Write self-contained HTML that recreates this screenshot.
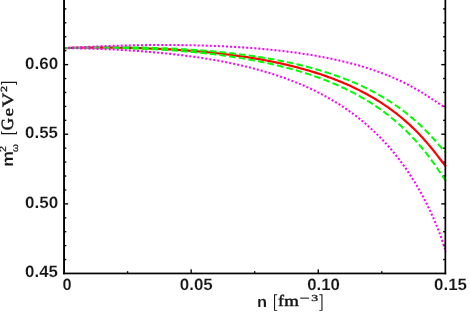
<!DOCTYPE html>
<html><head><meta charset="utf-8"><title>plot</title>
<style>
html,body{margin:0;padding:0;background:#fff;width:470px;height:327px;overflow:hidden}
svg{display:block;will-change:transform}
text{fill:#161616}
</style></head><body>
<svg width="470" height="327" viewBox="0 0 470 327">
<rect width="470" height="327" fill="#fff"/>
<g fill="#000">
<rect x="64.05" y="258.90" width="2.25" height="1.35"/>
<rect x="443.10" y="258.90" width="2.25" height="1.35"/>
<rect x="64.05" y="244.97" width="2.25" height="1.35"/>
<rect x="443.10" y="244.97" width="2.25" height="1.35"/>
<rect x="64.05" y="231.05" width="2.25" height="1.35"/>
<rect x="443.10" y="231.05" width="2.25" height="1.35"/>
<rect x="64.05" y="217.12" width="2.25" height="1.35"/>
<rect x="443.10" y="217.12" width="2.25" height="1.35"/>
<rect x="64.05" y="203.19" width="4.1" height="1.35"/>
<rect x="441.25" y="203.19" width="4.1" height="1.35"/>
<rect x="64.05" y="189.27" width="2.25" height="1.35"/>
<rect x="443.10" y="189.27" width="2.25" height="1.35"/>
<rect x="64.05" y="175.34" width="2.25" height="1.35"/>
<rect x="443.10" y="175.34" width="2.25" height="1.35"/>
<rect x="64.05" y="161.42" width="2.25" height="1.35"/>
<rect x="443.10" y="161.42" width="2.25" height="1.35"/>
<rect x="64.05" y="147.49" width="2.25" height="1.35"/>
<rect x="443.10" y="147.49" width="2.25" height="1.35"/>
<rect x="64.05" y="133.56" width="4.1" height="1.35"/>
<rect x="441.25" y="133.56" width="4.1" height="1.35"/>
<rect x="64.05" y="119.64" width="2.25" height="1.35"/>
<rect x="443.10" y="119.64" width="2.25" height="1.35"/>
<rect x="64.05" y="105.71" width="2.25" height="1.35"/>
<rect x="443.10" y="105.71" width="2.25" height="1.35"/>
<rect x="64.05" y="91.79" width="2.25" height="1.35"/>
<rect x="443.10" y="91.79" width="2.25" height="1.35"/>
<rect x="64.05" y="77.86" width="2.25" height="1.35"/>
<rect x="443.10" y="77.86" width="2.25" height="1.35"/>
<rect x="64.05" y="63.94" width="4.1" height="1.35"/>
<rect x="441.25" y="63.94" width="4.1" height="1.35"/>
<rect x="64.05" y="50.01" width="2.25" height="1.35"/>
<rect x="443.10" y="50.01" width="2.25" height="1.35"/>
<rect x="64.05" y="36.08" width="2.25" height="1.35"/>
<rect x="443.10" y="36.08" width="2.25" height="1.35"/>
<rect x="64.05" y="22.16" width="2.25" height="1.35"/>
<rect x="443.10" y="22.16" width="2.25" height="1.35"/>
<rect x="64.05" y="8.23" width="2.25" height="1.35"/>
<rect x="443.10" y="8.23" width="2.25" height="1.35"/>
<rect x="126.92" y="271.20" width="1.35" height="2.25"/>
<rect x="190.47" y="269.35" width="1.35" height="4.1"/>
<rect x="254.02" y="271.20" width="1.35" height="2.25"/>
<rect x="317.57" y="269.35" width="1.35" height="4.1"/>
<rect x="381.12" y="271.20" width="1.35" height="2.25"/>
</g>
<g fill="none" stroke-width="2.2">
<path d="M64.10,48.10 L65.60,48.06 L67.10,48.03 L68.60,48.00 L70.10,47.97 L71.60,47.94 L73.10,47.91 L74.60,47.88 L76.10,47.86 L77.60,47.83 L79.10,47.81 L80.60,47.79 L82.10,47.77 L83.60,47.75 L85.10,47.73 L86.60,47.72 L88.10,47.70 L89.60,47.69 L91.10,47.68 L92.60,47.67 L94.10,47.66 L95.60,47.65 L97.10,47.65 L98.60,47.65 L100.10,47.64 L101.60,47.64 L103.10,47.64 L104.60,47.64 L106.10,47.65 L107.60,47.65 L109.10,47.66 L110.60,47.67 L112.10,47.68 L113.60,47.69 L115.10,47.70 L116.60,47.72 L118.10,47.74 L119.60,47.75 L121.10,47.77 L122.60,47.80 L124.10,47.82 L125.60,47.84 L127.10,47.87 L128.60,47.90 L130.10,47.93 L131.60,47.96 L133.10,47.99 L134.60,48.03 L136.10,48.07 L137.60,48.11 L139.10,48.15 L140.60,48.19 L142.10,48.24 L143.60,48.28 L145.10,48.33 L146.60,48.38 L148.10,48.43 L149.60,48.49 L151.10,48.54 L152.60,48.60 L154.10,48.66 L155.60,48.72 L157.10,48.79 L158.60,48.85 L160.10,48.92 L161.60,48.99 L163.10,49.06 L164.60,49.14 L166.10,49.22 L167.60,49.29 L169.10,49.38 L170.60,49.46 L172.10,49.54 L173.60,49.63 L175.10,49.72 L176.60,49.81 L178.10,49.91 L179.60,50.00 L181.10,50.10 L182.60,50.21 L184.10,50.31 L185.60,50.42 L187.10,50.52 L188.60,50.64 L190.10,50.75 L191.60,50.86 L193.10,50.98 L194.60,51.10 L196.10,51.23 L197.60,51.35 L199.10,51.48 L200.60,51.61 L202.10,51.75 L203.60,51.89 L205.10,52.03 L206.60,52.17 L208.10,52.31 L209.60,52.46 L211.10,52.61 L212.60,52.77 L214.10,52.92 L215.60,53.08 L217.10,53.25 L218.60,53.41 L220.10,53.58 L221.60,53.75 L223.10,53.93 L224.60,54.10 L226.10,54.29 L227.60,54.47 L229.10,54.66 L230.60,54.85 L232.10,55.04 L233.60,55.24 L235.10,55.44 L236.60,55.65 L238.10,55.86 L239.60,56.07 L241.10,56.28 L242.60,56.50 L244.10,56.72 L245.60,56.95 L247.10,57.18 L248.60,57.41 L250.10,57.65 L251.60,57.89 L253.10,58.14 L254.60,58.39 L256.10,58.64 L257.60,58.90 L259.10,59.16 L260.60,59.43 L262.10,59.70 L263.60,59.97 L265.10,60.25 L266.60,60.53 L268.10,60.82 L269.60,61.11 L271.10,61.41 L272.60,61.71 L274.10,62.02 L275.60,62.33 L277.10,62.65 L278.60,62.97 L280.10,63.30 L281.60,63.63 L283.10,63.96 L284.60,64.31 L286.10,64.65 L287.60,65.00 L289.10,65.36 L290.60,65.73 L292.10,66.10 L293.60,66.47 L295.10,66.85 L296.60,67.24 L298.10,67.63 L299.60,68.03 L301.10,68.44 L302.60,68.85 L304.10,69.26 L305.60,69.69 L307.10,70.12 L308.60,70.56 L310.10,71.00 L311.60,71.45 L313.10,71.91 L314.60,72.38 L316.10,72.85 L317.60,73.33 L319.10,73.82 L320.60,74.31 L322.10,74.82 L323.60,75.33 L325.10,75.85 L326.60,76.37 L328.10,76.91 L329.60,77.45 L331.10,78.00 L332.60,78.57 L334.10,79.14 L335.60,79.72 L337.10,80.31 L338.60,80.90 L340.10,81.51 L341.60,82.13 L343.10,82.76 L344.60,83.40 L346.10,84.04 L347.60,84.70 L349.10,85.37 L350.60,86.05 L352.10,86.74 L353.60,87.45 L355.10,88.16 L356.60,88.89 L358.10,89.63 L359.60,90.38 L361.10,91.15 L362.60,91.92 L364.10,92.71 L365.60,93.52 L367.10,94.34 L368.60,95.17 L370.10,96.01 L371.60,96.87 L373.10,97.75 L374.60,98.64 L376.10,99.55 L377.60,100.47 L379.10,101.41 L380.60,102.37 L382.10,103.34 L383.60,104.33 L385.10,105.34 L386.60,106.37 L388.10,107.41 L389.60,108.48 L391.10,109.56 L392.60,110.67 L394.10,111.79 L395.60,112.94 L397.10,114.11 L398.60,115.30 L400.10,116.51 L401.60,117.75 L403.10,119.01 L404.60,120.29 L406.10,121.60 L407.60,122.93 L409.10,124.30 L410.60,125.68 L412.10,127.10 L413.60,128.54 L415.10,130.01 L416.60,131.52 L418.10,133.05 L419.60,134.61 L421.10,136.20 L422.60,137.83 L424.10,139.48 L425.60,141.17 L427.10,142.90 L428.60,144.65 L430.10,146.44 L431.60,148.26 L433.10,150.11 L434.60,152.00 L436.10,153.91 L437.60,155.84 L439.10,157.79 L440.60,159.76 L442.10,161.72 L443.60,163.65 L445.10,165.53 L445.90,166.49" stroke="#ff0000"/>
<path d="M64.10,48.10 L65.60,48.05 L67.10,48.00 L68.60,47.96 L70.10,47.92 L71.60,47.88 L73.10,47.84 L74.60,47.80 L76.10,47.76 L77.60,47.72 L79.10,47.69 L80.60,47.66 L82.10,47.62 L83.60,47.59 L85.10,47.57 L86.60,47.54 L88.10,47.51 L89.60,47.49 L91.10,47.46 L92.60,47.44 L94.10,47.42 L95.60,47.40 L97.10,47.38 L98.60,47.37 L100.10,47.35 L101.60,47.34 L103.10,47.33 L104.60,47.32 L106.10,47.31 L107.60,47.30 L109.10,47.30 L110.60,47.29 L112.10,47.29 L113.60,47.29 L115.10,47.29 L116.60,47.29 L118.10,47.29 L119.60,47.30 L121.10,47.31 L122.60,47.31 L124.10,47.32 L125.60,47.34 L127.10,47.35 L128.60,47.37 L130.10,47.38 L131.60,47.40 L133.10,47.42 L134.60,47.44 L136.10,47.47 L137.60,47.49 L139.10,47.52 L140.60,47.55 L142.10,47.58 L143.60,47.61 L145.10,47.65 L146.60,47.68 L148.10,47.72 L149.60,47.76 L151.10,47.80 L152.60,47.85 L154.10,47.89 L155.60,47.94 L157.10,47.99 L158.60,48.04 L160.10,48.09 L161.60,48.15 L163.10,48.21 L164.60,48.27 L166.10,48.33 L167.60,48.39 L169.10,48.46 L170.60,48.52 L172.10,48.59 L173.60,48.67 L175.10,48.74 L176.60,48.82 L178.10,48.89 L179.60,48.97 L181.10,49.06 L182.60,49.14 L184.10,49.23 L185.60,49.32 L187.10,49.41 L188.60,49.50 L190.10,49.60 L191.60,49.70 L193.10,49.80 L194.60,49.90 L196.10,50.01 L197.60,50.12 L199.10,50.23 L200.60,50.34 L202.10,50.46 L203.60,50.57 L205.10,50.69 L206.60,50.82 L208.10,50.94 L209.60,51.07 L211.10,51.20 L212.60,51.34 L214.10,51.47 L215.60,51.61 L217.10,51.76 L218.60,51.90 L220.10,52.05 L221.60,52.20 L223.10,52.35 L224.60,52.51 L226.10,52.67 L227.60,52.83 L229.10,53.00 L230.60,53.16 L232.10,53.34 L233.60,53.51 L235.10,53.69 L236.60,53.87 L238.10,54.05 L239.60,54.24 L241.10,54.43 L242.60,54.63 L244.10,54.82 L245.60,55.02 L247.10,55.23 L248.60,55.44 L250.10,55.65 L251.60,55.86 L253.10,56.08 L254.60,56.30 L256.10,56.53 L257.60,56.76 L259.10,56.99 L260.60,57.23 L262.10,57.47 L263.60,57.72 L265.10,57.97 L266.60,58.22 L268.10,58.48 L269.60,58.74 L271.10,59.01 L272.60,59.28 L274.10,59.55 L275.60,59.83 L277.10,60.11 L278.60,60.40 L280.10,60.69 L281.60,60.99 L283.10,61.29 L284.60,61.60 L286.10,61.91 L287.60,62.23 L289.10,62.55 L290.60,62.87 L292.10,63.21 L293.60,63.54 L295.10,63.88 L296.60,64.23 L298.10,64.58 L299.60,64.94 L301.10,65.31 L302.60,65.68 L304.10,66.05 L305.60,66.43 L307.10,66.82 L308.60,67.21 L310.10,67.61 L311.60,68.02 L313.10,68.43 L314.60,68.85 L316.10,69.27 L317.60,69.71 L319.10,70.14 L320.60,70.59 L322.10,71.04 L323.60,71.50 L325.10,71.97 L326.60,72.44 L328.10,72.92 L329.60,73.41 L331.10,73.91 L332.60,74.41 L334.10,74.93 L335.60,75.45 L337.10,75.98 L338.60,76.51 L340.10,77.06 L341.60,77.62 L343.10,78.18 L344.60,78.75 L346.10,79.34 L347.60,79.93 L349.10,80.53 L350.60,81.14 L352.10,81.76 L353.60,82.39 L355.10,83.04 L356.60,83.69 L358.10,84.35 L359.60,85.03 L361.10,85.71 L362.60,86.41 L364.10,87.12 L365.60,87.84 L367.10,88.57 L368.60,89.32 L370.10,90.08 L371.60,90.85 L373.10,91.64 L374.60,92.44 L376.10,93.25 L377.60,94.08 L379.10,94.92 L380.60,95.77 L382.10,96.65 L383.60,97.53 L385.10,98.44 L386.60,99.35 L388.10,100.29 L389.60,101.24 L391.10,102.21 L392.60,103.20 L394.10,104.21 L395.60,105.23 L397.10,106.28 L398.60,107.34 L400.10,108.43 L401.60,109.53 L403.10,110.65 L404.60,111.80 L406.10,112.97 L407.60,114.16 L409.10,115.38 L410.60,116.61 L412.10,117.88 L413.60,119.16 L415.10,120.47 L416.60,121.81 L418.10,123.17 L419.60,124.56 L421.10,125.98 L422.60,127.42 L424.10,128.90 L425.60,130.40 L427.10,131.93 L428.60,133.48 L430.10,135.07 L431.60,136.68 L433.10,138.32 L434.60,139.98 L436.10,141.66 L437.60,143.36 L439.10,145.08 L440.60,146.79 L442.10,148.50 L443.60,150.17 L445.10,151.78 L445.90,152.59" stroke="#00ff00" stroke-width="2" stroke-dasharray="6.65 3.08"/>
<path d="M64.10,48.10 L65.60,48.07 L67.10,48.04 L68.60,48.02 L70.10,47.99 L71.60,47.97 L73.10,47.95 L74.60,47.93 L76.10,47.91 L77.60,47.89 L79.10,47.88 L80.60,47.86 L82.10,47.85 L83.60,47.84 L85.10,47.83 L86.60,47.82 L88.10,47.82 L89.60,47.81 L91.10,47.81 L92.60,47.81 L94.10,47.81 L95.60,47.81 L97.10,47.81 L98.60,47.82 L100.10,47.82 L101.60,47.83 L103.10,47.84 L104.60,47.85 L106.10,47.87 L107.60,47.88 L109.10,47.90 L110.60,47.92 L112.10,47.94 L113.60,47.96 L115.10,47.98 L116.60,48.01 L118.10,48.04 L119.60,48.07 L121.10,48.10 L122.60,48.13 L124.10,48.16 L125.60,48.20 L127.10,48.24 L128.60,48.28 L130.10,48.32 L131.60,48.37 L133.10,48.41 L134.60,48.46 L136.10,48.51 L137.60,48.56 L139.10,48.62 L140.60,48.67 L142.10,48.73 L143.60,48.79 L145.10,48.85 L146.60,48.92 L148.10,48.98 L149.60,49.05 L151.10,49.12 L152.60,49.19 L154.10,49.27 L155.60,49.35 L157.10,49.43 L158.60,49.51 L160.10,49.59 L161.60,49.68 L163.10,49.76 L164.60,49.86 L166.10,49.95 L167.60,50.04 L169.10,50.14 L170.60,50.24 L172.10,50.34 L173.60,50.45 L175.10,50.56 L176.60,50.67 L178.10,50.78 L179.60,50.89 L181.10,51.01 L182.60,51.13 L184.10,51.25 L185.60,51.38 L187.10,51.51 L188.60,51.64 L190.10,51.77 L191.60,51.90 L193.10,52.04 L194.60,52.19 L196.10,52.33 L197.60,52.48 L199.10,52.63 L200.60,52.78 L202.10,52.94 L203.60,53.09 L205.10,53.26 L206.60,53.42 L208.10,53.59 L209.60,53.76 L211.10,53.93 L212.60,54.11 L214.10,54.29 L215.60,54.48 L217.10,54.66 L218.60,54.85 L220.10,55.05 L221.60,55.24 L223.10,55.44 L224.60,55.65 L226.10,55.85 L227.60,56.07 L229.10,56.28 L230.60,56.50 L232.10,56.72 L233.60,56.94 L235.10,57.17 L236.60,57.41 L238.10,57.64 L239.60,57.88 L241.10,58.13 L242.60,58.38 L244.10,58.63 L245.60,58.89 L247.10,59.15 L248.60,59.41 L250.10,59.68 L251.60,59.95 L253.10,60.23 L254.60,60.51 L256.10,60.80 L257.60,61.09 L259.10,61.39 L260.60,61.69 L262.10,61.99 L263.60,62.30 L265.10,62.62 L266.60,62.94 L268.10,63.26 L269.60,63.59 L271.10,63.92 L272.60,64.26 L274.10,64.61 L275.60,64.96 L277.10,65.31 L278.60,65.67 L280.10,66.04 L281.60,66.41 L283.10,66.79 L284.60,67.17 L286.10,67.56 L287.60,67.96 L289.10,68.36 L290.60,68.77 L292.10,69.18 L293.60,69.60 L295.10,70.02 L296.60,70.46 L298.10,70.90 L299.60,71.34 L301.10,71.79 L302.60,72.25 L304.10,72.72 L305.60,73.19 L307.10,73.68 L308.60,74.16 L310.10,74.66 L311.60,75.16 L313.10,75.67 L314.60,76.19 L316.10,76.72 L317.60,77.26 L319.10,77.80 L320.60,78.35 L322.10,78.91 L323.60,79.48 L325.10,80.06 L326.60,80.64 L328.10,81.24 L329.60,81.85 L331.10,82.46 L332.60,83.09 L334.10,83.72 L335.60,84.36 L337.10,85.02 L338.60,85.68 L340.10,86.36 L341.60,87.05 L343.10,87.74 L344.60,88.45 L346.10,89.17 L347.60,89.90 L349.10,90.65 L350.60,91.40 L352.10,92.17 L353.60,92.95 L355.10,93.74 L356.60,94.55 L358.10,95.37 L359.60,96.20 L361.10,97.05 L362.60,97.91 L364.10,98.79 L365.60,99.68 L367.10,100.59 L368.60,101.51 L370.10,102.45 L371.60,103.40 L373.10,104.37 L374.60,105.36 L376.10,106.36 L377.60,107.39 L379.10,108.43 L380.60,109.48 L382.10,110.56 L383.60,111.66 L385.10,112.78 L386.60,113.91 L388.10,115.07 L389.60,116.25 L391.10,117.45 L392.60,118.67 L394.10,119.92 L395.60,121.19 L397.10,122.48 L398.60,123.80 L400.10,125.14 L401.60,126.51 L403.10,127.90 L404.60,129.33 L406.10,130.77 L407.60,132.25 L409.10,133.76 L410.60,135.30 L412.10,136.86 L413.60,138.46 L415.10,140.09 L416.60,141.76 L418.10,143.45 L419.60,145.19 L421.10,146.95 L422.60,148.75 L424.10,150.59 L425.60,152.47 L427.10,154.38 L428.60,156.33 L430.10,158.32 L431.60,160.35 L433.10,162.42 L434.60,164.52 L436.10,166.66 L437.60,168.83 L439.10,171.02 L440.60,173.24 L442.10,175.47 L443.60,177.69 L445.10,179.88 L445.90,181.01" stroke="#00ff00" stroke-width="2" stroke-dasharray="6.65 3.08"/>
<path d="M64.10,48.09 L65.60,48.01 L67.10,47.92 L68.60,47.84 L70.10,47.76 L71.60,47.68 L73.10,47.60 L74.60,47.52 L76.10,47.44 L77.60,47.36 L79.10,47.29 L80.60,47.21 L82.10,47.14 L83.60,47.07 L85.10,47.00 L86.60,46.93 L88.10,46.86 L89.60,46.79 L91.10,46.72 L92.60,46.66 L94.10,46.59 L95.60,46.53 L97.10,46.47 L98.60,46.41 L100.10,46.35 L101.60,46.29 L103.10,46.23 L104.60,46.18 L106.10,46.12 L107.60,46.07 L109.10,46.02 L110.60,45.97 L112.10,45.92 L113.60,45.87 L115.10,45.82 L116.60,45.77 L118.10,45.73 L119.60,45.69 L121.10,45.64 L122.60,45.60 L124.10,45.56 L125.60,45.52 L127.10,45.49 L128.60,45.45 L130.10,45.42 L131.60,45.38 L133.10,45.35 L134.60,45.32 L136.10,45.29 L137.60,45.27 L139.10,45.24 L140.60,45.22 L142.10,45.19 L143.60,45.17 L145.10,45.15 L146.60,45.13 L148.10,45.11 L149.60,45.10 L151.10,45.08 L152.60,45.07 L154.10,45.06 L155.60,45.04 L157.10,45.04 L158.60,45.03 L160.10,45.02 L161.60,45.02 L163.10,45.01 L164.60,45.01 L166.10,45.01 L167.60,45.02 L169.10,45.02 L170.60,45.02 L172.10,45.03 L173.60,45.04 L175.10,45.05 L176.60,45.06 L178.10,45.07 L179.60,45.09 L181.10,45.10 L182.60,45.12 L184.10,45.14 L185.60,45.16 L187.10,45.18 L188.60,45.21 L190.10,45.24 L191.60,45.26 L193.10,45.29 L194.60,45.33 L196.10,45.36 L197.60,45.40 L199.10,45.43 L200.60,45.47 L202.10,45.51 L203.60,45.56 L205.10,45.60 L206.60,45.65 L208.10,45.70 L209.60,45.75 L211.10,45.80 L212.60,45.85 L214.10,45.91 L215.60,45.97 L217.10,46.03 L218.60,46.09 L220.10,46.16 L221.60,46.22 L223.10,46.29 L224.60,46.36 L226.10,46.44 L227.60,46.51 L229.10,46.59 L230.60,46.67 L232.10,46.75 L233.60,46.84 L235.10,46.92 L236.60,47.01 L238.10,47.11 L239.60,47.20 L241.10,47.30 L242.60,47.39 L244.10,47.49 L245.60,47.60 L247.10,47.70 L248.60,47.81 L250.10,47.92 L251.60,48.04 L253.10,48.15 L254.60,48.27 L256.10,48.39 L257.60,48.52 L259.10,48.64 L260.60,48.77 L262.10,48.91 L263.60,49.04 L265.10,49.18 L266.60,49.32 L268.10,49.47 L269.60,49.61 L271.10,49.76 L272.60,49.92 L274.10,50.07 L275.60,50.23 L277.10,50.39 L278.60,50.56 L280.10,50.73 L281.60,50.90 L283.10,51.07 L284.60,51.25 L286.10,51.43 L287.60,51.62 L289.10,51.81 L290.60,52.00 L292.10,52.20 L293.60,52.40 L295.10,52.60 L296.60,52.81 L298.10,53.02 L299.60,53.23 L301.10,53.45 L302.60,53.67 L304.10,53.90 L305.60,54.13 L307.10,54.37 L308.60,54.60 L310.10,54.85 L311.60,55.09 L313.10,55.35 L314.60,55.60 L316.10,55.86 L317.60,56.13 L319.10,56.40 L320.60,56.67 L322.10,56.95 L323.60,57.24 L325.10,57.53 L326.60,57.82 L328.10,58.12 L329.60,58.43 L331.10,58.74 L332.60,59.05 L334.10,59.37 L335.60,59.70 L337.10,60.03 L338.60,60.37 L340.10,60.71 L341.60,61.06 L343.10,61.42 L344.60,61.78 L346.10,62.15 L347.60,62.52 L349.10,62.90 L350.60,63.29 L352.10,63.68 L353.60,64.09 L355.10,64.49 L356.60,64.91 L358.10,65.33 L359.60,65.76 L361.10,66.20 L362.60,66.64 L364.10,67.10 L365.60,67.56 L367.10,68.03 L368.60,68.51 L370.10,68.99 L371.60,69.49 L373.10,69.99 L374.60,70.50 L376.10,71.02 L377.60,71.56 L379.10,72.10 L380.60,72.65 L382.10,73.21 L383.60,73.78 L385.10,74.36 L386.60,74.95 L388.10,75.55 L389.60,76.17 L391.10,76.79 L392.60,77.43 L394.10,78.08 L395.60,78.74 L397.10,79.41 L398.60,80.09 L400.10,80.79 L401.60,81.50 L403.10,82.23 L404.60,82.97 L406.10,83.72 L407.60,84.48 L409.10,85.26 L410.60,86.06 L412.10,86.87 L413.60,87.69 L415.10,88.53 L416.60,89.38 L418.10,90.25 L419.60,91.14 L421.10,92.04 L422.60,92.95 L424.10,93.88 L425.60,94.83 L427.10,95.79 L428.60,96.76 L430.10,97.74 L431.60,98.74 L433.10,99.74 L434.60,100.74 L436.10,101.75 L437.60,102.75 L439.10,103.73 L440.60,104.69 L442.10,105.59 L443.60,106.41 L445.10,107.11 L445.90,107.39" stroke="#ff00ff" stroke-width="2.05" stroke-dasharray="2 2.05"/>
<path d="M64.10,48.10 L65.60,48.12 L67.10,48.14 L68.60,48.16 L70.10,48.18 L71.60,48.21 L73.10,48.24 L74.60,48.26 L76.10,48.29 L77.60,48.32 L79.10,48.35 L80.60,48.39 L82.10,48.42 L83.60,48.46 L85.10,48.50 L86.60,48.54 L88.10,48.58 L89.60,48.62 L91.10,48.67 L92.60,48.71 L94.10,48.76 L95.60,48.81 L97.10,48.86 L98.60,48.92 L100.10,48.97 L101.60,49.03 L103.10,49.09 L104.60,49.15 L106.10,49.21 L107.60,49.27 L109.10,49.34 L110.60,49.41 L112.10,49.48 L113.60,49.55 L115.10,49.62 L116.60,49.70 L118.10,49.77 L119.60,49.85 L121.10,49.93 L122.60,50.02 L124.10,50.10 L125.60,50.19 L127.10,50.28 L128.60,50.37 L130.10,50.46 L131.60,50.56 L133.10,50.66 L134.60,50.76 L136.10,50.86 L137.60,50.97 L139.10,51.07 L140.60,51.18 L142.10,51.29 L143.60,51.41 L145.10,51.52 L146.60,51.64 L148.10,51.76 L149.60,51.89 L151.10,52.01 L152.60,52.14 L154.10,52.27 L155.60,52.41 L157.10,52.54 L158.60,52.68 L160.10,52.82 L161.60,52.97 L163.10,53.12 L164.60,53.27 L166.10,53.42 L167.60,53.57 L169.10,53.73 L170.60,53.89 L172.10,54.06 L173.60,54.22 L175.10,54.39 L176.60,54.57 L178.10,54.74 L179.60,54.92 L181.10,55.10 L182.60,55.29 L184.10,55.48 L185.60,55.67 L187.10,55.86 L188.60,56.06 L190.10,56.26 L191.60,56.47 L193.10,56.68 L194.60,56.89 L196.10,57.11 L197.60,57.32 L199.10,57.55 L200.60,57.77 L202.10,58.00 L203.60,58.24 L205.10,58.47 L206.60,58.72 L208.10,58.96 L209.60,59.21 L211.10,59.46 L212.60,59.72 L214.10,59.98 L215.60,60.25 L217.10,60.52 L218.60,60.79 L220.10,61.07 L221.60,61.35 L223.10,61.64 L224.60,61.93 L226.10,62.23 L227.60,62.53 L229.10,62.83 L230.60,63.14 L232.10,63.46 L233.60,63.78 L235.10,64.10 L236.60,64.43 L238.10,64.76 L239.60,65.10 L241.10,65.45 L242.60,65.80 L244.10,66.15 L245.60,66.51 L247.10,66.88 L248.60,67.25 L250.10,67.63 L251.60,68.01 L253.10,68.40 L254.60,68.80 L256.10,69.20 L257.60,69.61 L259.10,70.02 L260.60,70.44 L262.10,70.86 L263.60,71.30 L265.10,71.74 L266.60,72.18 L268.10,72.63 L269.60,73.09 L271.10,73.56 L272.60,74.03 L274.10,74.51 L275.60,75.00 L277.10,75.49 L278.60,76.00 L280.10,76.51 L281.60,77.02 L283.10,77.55 L284.60,78.08 L286.10,78.63 L287.60,79.18 L289.10,79.73 L290.60,80.30 L292.10,80.88 L293.60,81.46 L295.10,82.06 L296.60,82.66 L298.10,83.27 L299.60,83.89 L301.10,84.52 L302.60,85.16 L304.10,85.81 L305.60,86.48 L307.10,87.15 L308.60,87.83 L310.10,88.52 L311.60,89.22 L313.10,89.94 L314.60,90.66 L316.10,91.40 L317.60,92.15 L319.10,92.91 L320.60,93.68 L322.10,94.46 L323.60,95.26 L325.10,96.07 L326.60,96.89 L328.10,97.73 L329.60,98.58 L331.10,99.44 L332.60,100.32 L334.10,101.21 L335.60,102.12 L337.10,103.04 L338.60,103.98 L340.10,104.93 L341.60,105.90 L343.10,106.88 L344.60,107.88 L346.10,108.90 L347.60,109.93 L349.10,110.98 L350.60,112.05 L352.10,113.14 L353.60,114.25 L355.10,115.37 L356.60,116.52 L358.10,117.68 L359.60,118.87 L361.10,120.07 L362.60,121.30 L364.10,122.55 L365.60,123.82 L367.10,125.12 L368.60,126.43 L370.10,127.77 L371.60,129.14 L373.10,130.53 L374.60,131.95 L376.10,133.39 L377.60,134.86 L379.10,136.36 L380.60,137.88 L382.10,139.43 L383.60,141.02 L385.10,142.63 L386.60,144.28 L388.10,145.95 L389.60,147.66 L391.10,149.41 L392.60,151.19 L394.10,153.00 L395.60,154.85 L397.10,156.74 L398.60,158.67 L400.10,160.64 L401.60,162.64 L403.10,164.70 L404.60,166.79 L406.10,168.93 L407.60,171.12 L409.10,173.35 L410.60,175.64 L412.10,177.97 L413.60,180.36 L415.10,182.80 L416.60,185.31 L418.10,187.87 L419.60,190.49 L421.10,193.17 L422.60,195.93 L424.10,198.75 L425.60,201.65 L427.10,204.62 L428.60,207.68 L430.10,210.82 L431.60,214.06 L433.10,217.39 L434.60,220.83 L436.10,224.39 L437.60,228.08 L439.10,231.92 L440.60,235.92 L442.10,240.13 L443.60,244.58 L445.10,249.36 L445.90,252.08" stroke="#ff00ff" stroke-width="2.05" stroke-dasharray="2 2.05"/>
</g>
<g fill="#000">
<rect x="63.1" y="-1" width="1.9" height="275.3"/>
<rect x="444.5" y="-1" width="1.7" height="275.3"/>
<rect x="63.1" y="272.6" width="383.1" height="1.7"/>
</g>
<text transform="translate(25.115,68.701) scale(1.0612,1.0260)" style="font-family:&quot;Liberation Sans&quot;;font-size:16px;font-weight:bold;text-rendering:geometricPrecision" fill="#161616" stroke="#fff" stroke-width="0.12" stroke-linejoin="round">0.60</text>
<text transform="translate(25.120,138.201) scale(1.0537,1.0260)" style="font-family:&quot;Liberation Sans&quot;;font-size:16px;font-weight:bold;text-rendering:geometricPrecision" fill="#161616" stroke="#fff" stroke-width="0.12" stroke-linejoin="round">0.55</text>
<text transform="translate(25.115,207.701) scale(1.0612,1.0260)" style="font-family:&quot;Liberation Sans&quot;;font-size:16px;font-weight:bold;text-rendering:geometricPrecision" fill="#161616" stroke="#fff" stroke-width="0.12" stroke-linejoin="round">0.50</text>
<text transform="translate(25.120,277.201) scale(1.0537,1.0260)" style="font-family:&quot;Liberation Sans&quot;;font-size:16px;font-weight:bold;text-rendering:geometricPrecision" fill="#161616" stroke="#fff" stroke-width="0.12" stroke-linejoin="round">0.45</text>
<text transform="translate(62.442,289.501) scale(1.0214,1.0260)" style="font-family:&quot;Liberation Sans&quot;;font-size:16px;font-weight:bold;text-rendering:geometricPrecision" fill="#161616" stroke="#fff" stroke-width="0.12" stroke-linejoin="round">0</text>
<text transform="translate(179.767,289.501) scale(1.0587,1.0260)" style="font-family:&quot;Liberation Sans&quot;;font-size:16px;font-weight:bold;text-rendering:geometricPrecision" fill="#161616" stroke="#fff" stroke-width="0.12" stroke-linejoin="round">0.05</text>
<text transform="translate(307.172,289.501) scale(1.0511,1.0260)" style="font-family:&quot;Liberation Sans&quot;;font-size:16px;font-weight:bold;text-rendering:geometricPrecision" fill="#161616" stroke="#fff" stroke-width="0.12" stroke-linejoin="round">0.10</text>
<text transform="translate(434.067,289.501) scale(1.0587,1.0260)" style="font-family:&quot;Liberation Sans&quot;;font-size:16px;font-weight:bold;text-rendering:geometricPrecision" fill="#161616" stroke="#fff" stroke-width="0.12" stroke-linejoin="round">0.15</text>
<text transform="translate(256.957,306.657) scale(1.0254,0.9533)" style="font-family:&quot;Liberation Sans&quot;;font-size:16px;font-weight:bold;text-rendering:geometricPrecision" fill="#161616" stroke="#fff" stroke-width="0.12" stroke-linejoin="round">n</text>
<text transform="translate(277.962,306.365) scale(1.0553,0.9383)" style="font-family:&quot;Liberation Serif&quot;;font-size:17px;font-weight:normal;text-rendering:geometricPrecision" fill="#161616" stroke="#161616" stroke-width="0.5" stroke-linejoin="round">f</text>
<text transform="translate(284.282,306.374) scale(1.1068,0.9048)" style="font-family:&quot;Liberation Serif&quot;;font-size:17px;font-weight:normal;text-rendering:geometricPrecision" fill="#161616" stroke="#161616" stroke-width="0.5" stroke-linejoin="round">m</text>
<text transform="translate(311.266,300.524) scale(1.3794,0.9271)" style="font-family:&quot;Liberation Serif&quot;;font-size:10px;font-weight:normal;text-rendering:geometricPrecision" fill="#161616" stroke="#161616" stroke-width="0.4" stroke-linejoin="round">3</text>
<rect x="300.2" y="297.6" width="8.9" height="1.05" fill="#161616"/>
<path d="M274.00,294.25 L277.15,294.25 L277.15,295.20 L275.10,295.20 L275.10,309.90 L277.15,309.90 L277.15,310.85 L274.00,310.85 Z M322.50,294.25 L319.30,294.25 L319.30,295.20 L321.40,295.20 L321.40,309.90 L319.30,309.90 L319.30,310.85 L322.50,310.85 Z" fill="#161616"/>
<g transform="translate(13.2,165.45) rotate(-90)">
<text transform="translate(-1.225,0.059) scale(1.0987,0.9768)" style="font-family:&quot;Liberation Sans&quot;;font-size:16px;font-weight:bold;text-rendering:geometricPrecision" fill="#161616" stroke="#fff" stroke-width="0.12" stroke-linejoin="round">m</text>
<text transform="translate(13.349,-7.219) scale(1.0612,0.9540)" style="font-family:&quot;Liberation Sans&quot;;font-size:10px;font-weight:normal;text-rendering:geometricPrecision" fill="#161616" stroke="#161616" stroke-width="0.25" stroke-linejoin="round">2</text>
<text transform="translate(13.567,4.998) scale(1.0080,0.9070)" style="font-family:&quot;Liberation Sans&quot;;font-size:10px;font-weight:normal;text-rendering:geometricPrecision" fill="#161616" stroke="#161616" stroke-width="0.25" stroke-linejoin="round">ω</text>
<text transform="translate(35.305,-0.419) scale(0.9958,1.0066)" style="font-family:&quot;Liberation Serif&quot;;font-size:17px;font-weight:normal;text-rendering:geometricPrecision" fill="#161616" stroke="#161616" stroke-width="0.5" stroke-linejoin="round">G</text>
<text transform="translate(48.987,-0.360) scale(1.1190,0.8644)" style="font-family:&quot;Liberation Serif&quot;;font-size:17px;font-weight:normal;text-rendering:geometricPrecision" fill="#161616" stroke="#161616" stroke-width="0.5" stroke-linejoin="round">e</text>
<text transform="translate(58.120,-0.472) scale(1.1860,0.9295)" style="font-family:&quot;Liberation Serif&quot;;font-size:17px;font-weight:normal;text-rendering:geometricPrecision" fill="#161616" stroke="#161616" stroke-width="0.5" stroke-linejoin="round">V</text>
<text transform="translate(73.457,-6.037) scale(1.2248,0.9329)" style="font-family:&quot;Liberation Serif&quot;;font-size:10px;font-weight:normal;text-rendering:geometricPrecision" fill="#161616" stroke="#161616" stroke-width="0.4" stroke-linejoin="round">2</text>
<path d="M31.25,-12.20 L33.95,-12.20 L33.95,-11.25 L32.40,-11.25 L32.40,2.80 L33.95,2.80 L33.95,3.75 L31.25,3.75 Z M83.60,-12.26 L80.80,-12.26 L80.80,-11.31 L82.45,-11.31 L82.45,2.80 L80.80,2.80 L80.80,3.75 L83.60,3.75 Z" fill="#161616"/>
</g>
</svg>
</body></html>
